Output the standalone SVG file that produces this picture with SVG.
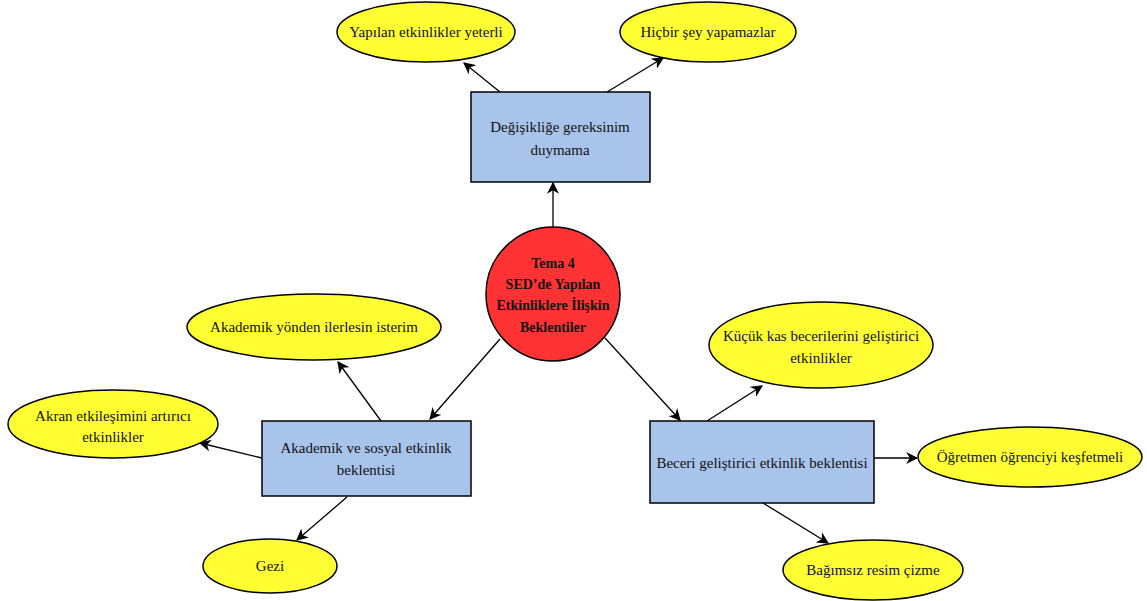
<svg xmlns="http://www.w3.org/2000/svg" width="1147" height="601" viewBox="0 0 1147 601">
<style>
.ell{fill:#FFFF33;stroke:#000;stroke-width:1.5}
.box{fill:#A9C4EB;stroke:#000;stroke-width:1.5}
.ctr{fill:#FF3333;stroke:#000;stroke-width:1.5}
text{font-family:'Liberation Serif','Times New Roman','DejaVu Serif',serif;font-size:15px;fill:#111;text-anchor:middle}
.b{font-weight:bold;font-size:14px}
.c line{stroke:#000;stroke-width:1.3;marker-end:url(#ah)}
</style>
<defs>
<marker id="ah" viewBox="0 0 10 10" refX="9" refY="5" markerWidth="12" markerHeight="12" markerUnits="userSpaceOnUse" orient="auto">
<path d="M0,0 L10,5 L0,10 L3,5 z" fill="#000"/>
</marker>
</defs>
<rect width="1147" height="601" fill="#fff"/>
<g class="c" id="connectors">
<line x1="553" y1="227" x2="553" y2="183"/>
<line x1="500" y1="92" x2="464" y2="63"/>
<line x1="607" y1="92" x2="663" y2="58"/>
<line x1="500" y1="339" x2="430" y2="419"/>
<line x1="605" y1="338" x2="680" y2="420"/>
<line x1="381" y1="421" x2="338" y2="362"/>
<line x1="262" y1="458" x2="200" y2="443"/>
<line x1="347" y1="497" x2="297" y2="540"/>
<line x1="707" y1="421" x2="762" y2="386"/>
<line x1="874" y1="458" x2="917" y2="458"/>
<line x1="763" y1="503" x2="828" y2="543"/>
</g>
<g id="center"><circle class="ctr" cx="553" cy="294" r="67"/>
<text class="b" x="553" y="268">Tema 4</text>
<text class="b" x="553" y="289">SED’de Yapılan</text>
<text class="b" x="553" y="310">Etkinliklere İlişkin</text>
<text class="b" x="553" y="332">Beklentiler</text></g>
<g id="n1"><rect class="box" x="471" y="92" width="179" height="90"/>
<text x="560" y="132">Değişikliğe gereksinim</text><text x="560" y="155">duymama</text></g>
<g id="n2"><ellipse class="ell" cx="426" cy="32" rx="89" ry="30"/><text x="426" y="37">Yapılan etkinlikler yeterli</text></g>
<g id="n3"><ellipse class="ell" cx="708" cy="32" rx="88" ry="30"/><text x="708" y="37">Hiçbir şey yapamazlar</text></g>
<g id="n4"><rect class="box" x="262" y="421" width="209" height="75"/>
<text x="366" y="453">Akademik ve sosyal etkinlik</text><text x="366" y="475">beklentisi</text></g>
<g id="n5"><ellipse class="ell" cx="314" cy="327" rx="127" ry="33"/><text x="314" y="332">Akademik yönden ilerlesin isterim</text></g>
<g id="n6"><ellipse class="ell" cx="113" cy="424" rx="105" ry="34"/><text x="113" y="421">Akran etkileşimini artırıcı</text><text x="113" y="442">etkinlikler</text></g>
<g id="n7"><ellipse class="ell" cx="270" cy="566" rx="67" ry="27"/><text x="270" y="571">Gezi</text></g>
<g id="n8"><rect class="box" x="650" y="421" width="224" height="82"/>
<text x="762" y="468">Beceri geliştirici etkinlik beklentisi</text></g>
<g id="n9"><ellipse class="ell" cx="821" cy="345" rx="112" ry="43"/><text x="821" y="341">Küçük kas becerilerini geliştirici</text><text x="821" y="363">etkinlikler</text></g>
<g id="n10"><ellipse class="ell" cx="1030" cy="457" rx="112" ry="30"/><text x="1030" y="462">Öğretmen öğrenciyi keşfetmeli</text></g>
<g id="n11"><ellipse class="ell" cx="873" cy="570" rx="90" ry="30"/><text x="873" y="575">Bağımsız resim çizme</text></g>
</svg>
